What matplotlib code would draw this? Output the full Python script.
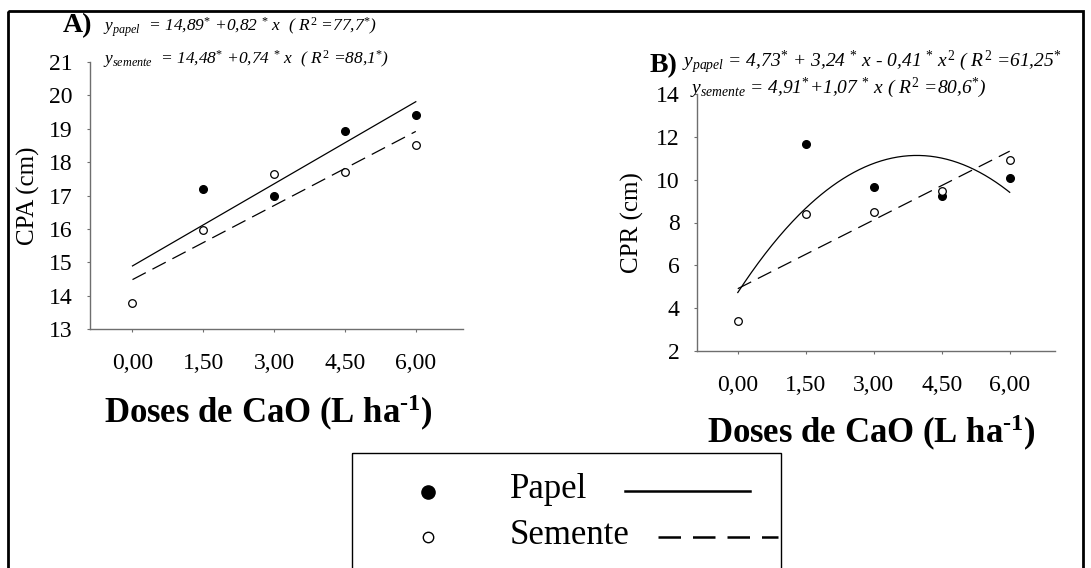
import numpy as np
import matplotlib
matplotlib.use("Agg")
import matplotlib.pyplot as plt
from matplotlib.patches import Rectangle

# Daten
doses = [0.0, 1.5, 3.0, 4.5, 6.0]
dose_labels = ["0,00", "1,50", "3,00", "4,50", "6,00"]

# A) CPA (cm)
cpa_papel_x = [1.5, 3.0, 4.5, 6.0]
cpa_papel = [17.18, 16.99, 18.93, 19.40]
cpa_semente = [13.78, 15.97, 17.63, 17.71, 18.52]
cpa_papel_coef = [0.82, 14.89]          # polyval-Reihenfolge
cpa_semente_coef = [0.74, 14.48]

# B) CPR (cm)
cpr_papel_x = [1.5, 3.0, 4.5, 6.0]
cpr_papel = [11.67, 9.64, 9.26, 10.10]
cpr_semente = [3.41, 8.39, 8.51, 9.49, 10.90]
cpr_papel_coef = [-0.41, 3.24, 4.73]
cpr_semente_coef = [1.07, 4.91]

W, H = 1091, 568
SPINE = "#6e6e6e"


def px(x, y):
    """Pixelposition -> Figurkoordinaten."""
    return x / W, 1 - y / H


def setup_style():
    plt.rcParams.update({
        "font.family": "Liberation Serif",
        "mathtext.fontset": "custom",
        "mathtext.rm": "Liberation Serif",
        "mathtext.it": "Liberation Serif:italic",
        "mathtext.bf": "Liberation Serif:bold",
        "figure.facecolor": "white",
    })


def style_axes(ax, ylim, yticks):
    ax.set_xlim(-0.9, 7.0)
    ax.set_ylim(*ylim)
    ax.set_xticks(doses)
    ax.set_xticklabels(dose_labels)
    ax.set_yticks(yticks)
    for s in ("top", "right"):
        ax.spines[s].set_visible(False)
    for s in ("left", "bottom"):
        ax.spines[s].set_color(SPINE)
        ax.spines[s].set_linewidth(1.0)
    ax.tick_params(axis="both", direction="out", length=2.5, width=0.8,
                   color=SPINE, labelsize=17)
    ax.tick_params(axis="x", pad=15)
    ax.tick_params(axis="y", pad=10)


def draw_panel(ax, papel_x, papel, semente, coef_p, coef_s):
    xs = np.linspace(0, 6, 200)
    ax.plot(xs, np.polyval(coef_p, xs), color="black", lw=0.9)
    ax.plot(xs, np.polyval(coef_s, xs), color="black", lw=0.9,
            dashes=(12, 6))
    ax.plot(papel_x, papel, "o", color="black", ms=5.5, zorder=3)
    ax.plot(doses, semente, "o", mfc="white", mec="black", mew=0.9,
            ms=5.5, zorder=3)


def main():
    setup_style()
    fig = plt.figure(figsize=(W / 100, H / 100), dpi=100)

    xlab = "Doses de CaO (L ha$^{\\mathbf{\u2010 1}}$)"

    # Panel A
    axA = fig.add_axes([90 / W, 1 - 329 / H, 373 / W, 267 / H])
    draw_panel(axA, cpa_papel_x, cpa_papel, cpa_semente,
               cpa_papel_coef, cpa_semente_coef)
    style_axes(axA, (13, 21), range(13, 22))
    axA.set_ylabel("CPA (cm)", fontsize=18, va="center")
    axA.yaxis.set_label_coords(-0.166, 0.5)
    axA.set_xlabel(xlab, fontsize=25, fontweight="bold")
    axA.xaxis.set_label_coords(0.478, -0.352)
    axA.xaxis.label.set_va("baseline")

    # Panel B
    axB = fig.add_axes([697 / W, 1 - 351 / H, 358 / W, 257 / H])
    draw_panel(axB, cpr_papel_x, cpr_papel, cpr_semente,
               cpr_papel_coef, cpr_semente_coef)
    style_axes(axB, (2, 14), range(2, 15, 2))
    axB.set_ylabel("CPR (cm)", fontsize=18, va="center")
    axB.yaxis.set_label_coords(-0.179, 0.5)
    axB.set_xlabel(xlab, fontsize=25, fontweight="bold")
    axB.xaxis.set_label_coords(0.486, -0.358)
    axB.xaxis.label.set_va("baseline")

    # Gleichungen
    eqA = dict(fontsize=12.5, style="italic", va="baseline", ha="left")
    eqB = dict(fontsize=14, style="italic", va="baseline", ha="left")
    fig.text(*px(63, 32), "A)", fontsize=20, fontweight="bold",
             va="baseline")
    fig.text(*px(103, 31),
             r"$y_{papel}$  = 14,89$^{*}$ +0,82 $^{*}$ x  ( $R^{2}$ =77,7$^{*}$)",
             **eqA)
    fig.text(*px(103, 64),
             r"$y_{semente}$  = 14,48$^{*}$ +0,74 $^{*}$ x  ( $R^{2}$ =88,1$^{*}$)",
             **eqA)
    fig.text(*px(650, 72), "B)", fontsize=20, fontweight="bold",
             va="baseline")
    fig.text(*px(682, 67),
             r"$y_{papel}$ = 4,73$^{*}$ + 3,24 $^{*}$ x - 0,41 $^{*}$ $x^{2}$ ( $R^{2}$ =61,25$^{*}$",
             **eqB)
    fig.text(*px(690, 93),
             r"$y_{semente}$ = 4,91$^{*}$+1,07 $^{*}$ x ( $R^{2}$ =80,6$^{*}$)",
             **eqB)

    # Legende (eigener Kasten unten)
    lg = fig.add_axes([0, 0, 1, 1], facecolor="none")
    lg.set_xlim(0, W)
    lg.set_ylim(H, 0)
    lg.axis("off")
    lg.add_patch(Rectangle((352, 453), 781 - 352, 140, fill=False,
                           ec="black", lw=1.0))
    lg.plot([428], [492], "o", color="black", ms=9.5)
    lg.plot([428], [537], "o", mfc="white", mec="black", mew=1.0, ms=7.5)
    lg.text(510, 490, "Papel", fontsize=25, va="center", ha="left")
    lg.text(510, 536, "Semente", fontsize=25, va="center", ha="left")
    lg.plot([625, 750], [491, 491], color="black", lw=1.8)
    lg.plot([658, 778], [537, 537], color="black", lw=1.8, dashes=(9, 4.8))

    # Aeusserer Rahmen
    lg.add_patch(Rectangle((8, 11), 1083 - 8, 600, fill=False,
                           ec="black", lw=2.0))

    fig.savefig("out.png", dpi=100)
    plt.close(fig)


if __name__ == "__main__":
    main()
